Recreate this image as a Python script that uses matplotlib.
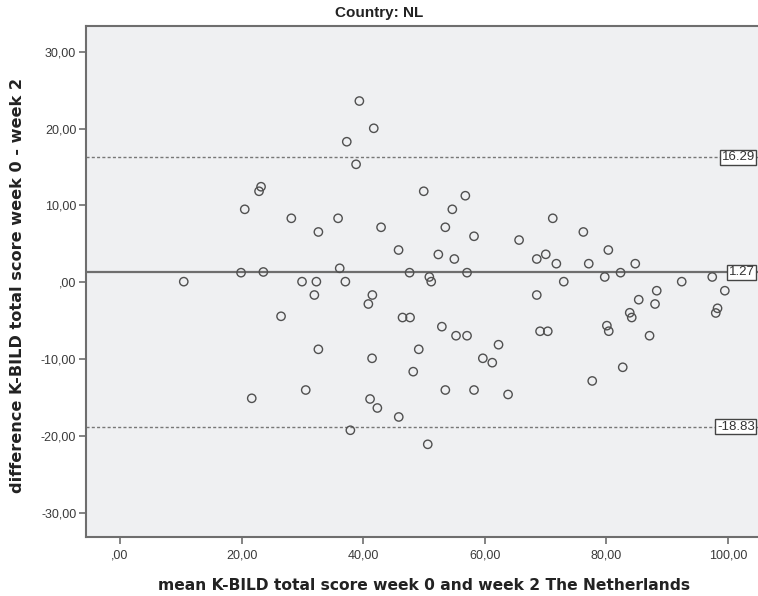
import matplotlib
matplotlib.use("Agg")
import matplotlib.pyplot as plt
from matplotlib.ticker import FuncFormatter

plt.rcParams["font.family"] = ["Liberation Sans", "DejaVu Sans"]

# mean of week 0 and week 2 total score, and the difference week 0 - week 2
mean_score = [
    39.36, 41.73, 37.29, 38.82, 23.19, 22.86, 49.95, 20.51, 54.65, 28.17,
    35.86, 32.62, 42.93, 53.50, 45.81, 52.35, 10.48, 19.90, 23.57, 36.13,
    47.62, 29.93, 32.29, 37.06, 50.87, 51.18, 31.96, 41.50, 40.84, 26.48,
    46.46, 47.70, 56.79, 58.22, 71.17, 76.20, 65.63, 54.98, 68.54, 70.02,
    71.76, 80.31, 77.09, 84.74, 57.07, 72.98, 79.72, 82.32, 92.38, 97.40,
    99.47, 68.54, 85.31, 88.27, 87.99, 83.83, 84.16, 98.27, 97.98, 52.93,
    55.26, 57.07, 69.08, 70.35, 80.07, 80.38, 87.09, 49.13, 62.25, 32.62,
    41.45, 59.67, 61.22, 48.22, 82.68, 77.66, 53.50, 58.22, 63.82, 21.66,
    30.54, 41.12, 42.32, 45.84, 37.88, 50.61,
]
diff_score = [
    23.59, 20.04, 18.29, 15.35, 12.43, 11.84, 11.84, 9.49, 9.49, 8.32,
    8.32, 6.54, 7.15, 7.15, 4.19, 3.61, 0.07, 1.24, 1.33, 1.81,
    1.24, 0.07, 0.07, 0.07, 0.68, 0.07, -1.67, -1.67, -2.84, -4.44,
    -4.60, -4.60, 11.26, 5.98, 8.32, 6.54, 5.49, 3.02, 3.02, 3.63,
    2.41, 4.19, 2.41, 2.41, 1.24, 0.07, 0.68, 1.24, 0.07, 0.68,
    -1.11, -1.67, -2.28, -1.11, -2.84, -3.98, -4.60, -3.40, -4.01, -5.79,
    -6.97, -6.97, -6.39, -6.39, -5.66, -6.38, -6.97, -8.74, -8.14, -8.74,
    -9.91, -9.91, -10.48, -11.65, -11.08, -12.86, -14.04, -14.04, -14.62, -15.12,
    -14.04, -15.21, -16.38, -17.55, -19.28, -21.11,
]

mean_diff = 1.27
upper_loa = 16.29
lower_loa = -18.83

x_ticks = [0, 20, 40, 60, 80, 100]
y_ticks = [-30, -20, -10, 0, 10, 20, 30]


def spss_fmt(v, pos=None):
    s = f"{v:.2f}".replace(".", ",")
    if s.startswith("0,"):
        s = s[1:]
    elif s.startswith("-0,"):
        s = "-" + s[2:]
    return s


fig = plt.figure(figsize=(7.58, 5.96), dpi=100)
ax = fig.add_axes([86 / 758, 59 / 596, 684 / 758, 511 / 596])
ax.set_facecolor("#eff0f2")

frame = "#6e6e6e"
ax.scatter(mean_score, diff_score, s=36, facecolors="none",
           edgecolors="#505050", linewidths=1.0, zorder=3)

ax.axhline(mean_diff, color=frame, linewidth=1.6, zorder=2)
for lim in (upper_loa, lower_loa):
    ax.axhline(lim, color="#777777", linewidth=1.0,
               linestyle=(0, (2.2, 1.6)), zorder=2)

# value boxes at the right end of the reference lines
for val in (upper_loa, mean_diff, lower_loa):
    ax.text(104.4, val, f"{val:.2f}", ha="right", va="center",
            fontsize=9.5, color="#333333", zorder=4,
            bbox=dict(boxstyle="square,pad=0.12", facecolor="white",
                      edgecolor="#444444", linewidth=1.0))

ax.set_xlim(-5.6, 106.9)
ax.set_ylim(-33.18, 33.36)
ax.set_xticks(x_ticks)
ax.set_yticks(y_ticks)
ax.xaxis.set_major_formatter(FuncFormatter(spss_fmt))
ax.yaxis.set_major_formatter(FuncFormatter(spss_fmt))
ax.tick_params(axis="both", direction="out", length=5, width=1.2,
               color=frame, labelsize=9, labelcolor="#3a3a3a", pad=2)
ax.tick_params(axis="x", pad=4)

for side in ("left", "bottom", "top"):
    ax.spines[side].set_color(frame)
    ax.spines[side].set_linewidth(1.5)
ax.spines["right"].set_visible(False)

fig.text(379 / 758, 1 - 13 / 596, "Country: NL", ha="center", va="center",
         fontsize=11, fontweight="bold", color="#222222")
fig.text(424 / 758, 1 - 585 / 596,
         "mean K-BILD total score week 0 and week 2 The Netherlands",
         ha="center", va="center", fontsize=11.2, fontweight="bold",
         color="#222222", family="DejaVu Sans")
fig.text(18 / 758, 1 - 286 / 596,
         "difference K-BILD total score week 0 - week 2",
         ha="center", va="center", rotation=90, fontsize=11.6,
         fontweight="bold", color="#222222", family="DejaVu Sans")

fig.savefig("out.png", dpi=100, facecolor="white")
